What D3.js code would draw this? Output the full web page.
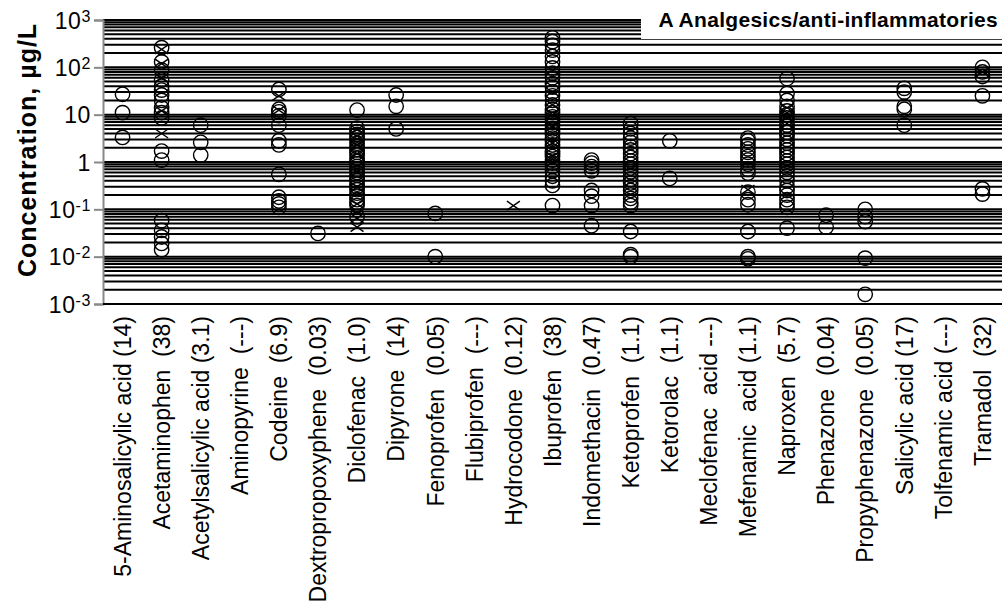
<!DOCTYPE html>
<html>
<head>
<meta charset="utf-8">
<script src="https://cdn.jsdelivr.net/npm/d3@7"></script>
<style>
  body { margin: 0; background: #fff; }
  svg { display: block; font-family: "Liberation Sans", Arial, sans-serif; }
</style>
</head>
<body>
<div id="chart"></div>
<script>
const drugs = [
  "5-Aminosalicylic acid (14)", "Acetaminophen  (38)", "Acetylsalicylic acid (3.1)",
  "Aminopyrine  (---)", "Codeine  (6.9)", "Dextropropoxyphene  (0.03)", "Diclofenac  (1.0)",
  "Dipyrone  (14)", "Fenoprofen  (0.05)", "Flubiprofen  (---)", "Hydrocodone  (0.12)",
  "Ibuprofen  (38)", "Indomethacin  (0.47)", "Ketoprofen  (1.1)", "Ketorolac  (1.1)",
  "Meclofenac  acid ---)", "Mefenamic  acid (1.1)", "Naproxen  (5.7)", "Phenazone  (0.04)",
  "Propyphenazone  (0.05)", "Salicylic acid (17)", "Tolfenamic acid (---)", "Tramadol  (32)"
];

// open circles, one list per drug
const circleValues = [
  [27, 11, 3.3],
  [260, 130, 88, 54, 40, 33, 26, 20, 14, 11, 8.5, 1.7, 1.1, 0.058, 0.036, 0.026, 0.019, 0.014],
  [6, 2.6, 1.4],
  [],
  [34, 13, 11.5, 9.5, 6, 2.8, 2.3, 0.55, 0.18, 0.15, 0.13, 0.11],
  [0.031],
  [12.5, 5.2, 4.4, 3.8, 3.3, 2.9, 2.5, 2.1, 1.8, 1.6, 1.4, 1.2, 1.05, 0.92, 0.8, 0.7, 0.6,
   0.52, 0.45, 0.4, 0.34, 0.3, 0.26, 0.22, 0.19, 0.16, 0.14, 0.12, 0.07],
  [26, 15, 5],
  [0.082, 0.01],
  [],
  [],
  [420, 350, 290, 230, 170, 130, 97, 75, 60, 45, 38, 30, 25, 20, 16, 13, 11, 9, 8, 7, 6, 5,
   4.4, 3.8, 3.2, 2.7, 2.3, 2, 1.7, 1.5, 1.3, 1.1, 0.95, 0.8, 0.65, 0.5, 0.4, 0.32, 0.12],
  [1.1, 0.95, 0.8, 0.65, 0.25, 0.19, 0.12, 0.045],
  [6.5, 5, 4, 3.2, 2.6, 2.1, 1.8, 1.5, 1.25, 1.05, 0.9, 0.75, 0.62, 0.52, 0.43, 0.36, 0.3,
   0.25, 0.2, 0.17, 0.14, 0.12, 0.034, 0.011, 0.01],
  [2.8, 0.45],
  [],
  [3.2, 2.8, 2.3, 1.9, 1.6, 1.3, 1.1, 0.9, 0.7, 0.58, 0.23, 0.16, 0.125, 0.034, 0.01, 0.009],
  [58, 28, 20, 15, 12, 10, 8.5, 7, 6, 5, 4.2, 3.6, 3, 2.5, 2.1, 1.8, 1.5, 1.25, 1.05, 0.9,
   0.75, 0.6, 0.5, 0.4, 0.3, 0.25, 0.2, 0.16, 0.13, 0.11, 0.04],
  [0.075, 0.042],
  [0.1, 0.07, 0.055, 0.0093, 0.0016],
  [36, 30, 15, 13, 6],
  [],
  [100, 80, 64, 25, 0.27, 0.21]
];

// crosses
const crossValues = [
  [], [240, 120, 60, 12, 4], [], [], [25, 12.5], [],
  [4.8, 3.5, 2.3, 1.5, 0.3, 0.13, 0.065, 0.042],
  [], [], [], [0.12], [16, 10, 5.5, 2.5, 1.3], [], [], [], [], [0.26],
  [14, 11, 9, 6.5], [], [], [], [], [80]
];

const decadeTicks = [1e-3, 1e-2, 1e-1, 1, 10, 100, 1000];
const tickText = [["10", "-3"], ["10", "-2"], ["10", "-1"], ["1", ""], ["10", ""], ["10", "2"], ["10", "3"]];

const width = 1002, height = 607;
const margins = {top: 20, right: 0, bottom: 303, left: 103};

const svg = d3.select("#chart")
  .append("svg")
  .attr("width", width)
  .attr("height", height);

const xScale = d3.scaleBand()
  .domain(drugs)
  .range([margins.left, width - margins.right])
  .padding(0);

const yScale = d3.scaleLog()
  .domain([1e-3, 1e3])
  .range([height - margins.bottom, margins.top]);

// horizontal lines at each 1..9 x decade
const gridVals = [];
decadeTicks.forEach(d => {
  for (let k = 1; k <= 9; k++) {
    if (d * k <= 1000) gridVals.push(d * k);
  }
});

svg.append("g")
  .selectAll("line")
  .data(gridVals)
  .join("line")
    .attr("x1", margins.left)
    .attr("x2", width - margins.right)
    .attr("y1", d => yScale(d))
    .attr("y2", d => yScale(d))
    .attr("stroke", "#000")
    .attr("stroke-width", 2);

const cx = i => xScale(drugs[i]) + xScale.bandwidth() / 2;

const circleData = [];
circleValues.forEach((vals, i) => vals.forEach(v => circleData.push({i, v})));
const crossData = [];
crossValues.forEach((vals, i) => vals.forEach(v => crossData.push({i, v})));

svg.append("g")
  .selectAll("circle")
  .data(circleData)
  .join("circle")
    .attr("cx", d => cx(d.i))
    .attr("cy", d => yScale(d.v))
    .attr("r", 7.2)
    .attr("fill", "none")
    .attr("stroke", "#000")
    .attr("stroke-width", 1.4);

svg.append("g")
  .selectAll("path")
  .data(crossData)
  .join("path")
    .attr("transform", d => `translate(${cx(d.i)},${yScale(d.v)})`)
    .attr("d", "M-6.5,-4.5L6.5,4.5M-6.5,4.5L6.5,-4.5")
    .attr("fill", "none")
    .attr("stroke", "#000")
    .attr("stroke-width", 1.4);

// y axis
const yAxis = d3.axisLeft(yScale)
  .tickValues(decadeTicks)
  .tickSize(9)
  .tickPadding(4)
  .tickFormat("");

const yGroup = svg.append("g")
  .attr("transform", `translate(${margins.left},0)`)
  .call(yAxis);

yGroup.select(".domain").attr("stroke", "#888").attr("stroke-width", 2);
yGroup.selectAll(".tick line").attr("stroke", "#888").attr("stroke-width", 2);

yGroup.selectAll(".tick text")
  .attr("x", -12)
  .attr("dy", "0.36em")
  .style("font-family", "'Liberation Sans', Arial, sans-serif")
  .style("font-size", "23px")
  .style("letter-spacing", "0.6px")
  .attr("fill", "#000")
  .each(function(d) {
    const t = d3.select(this);
    const [base, sup] = tickText[decadeTicks.indexOf(d)];
    t.text(null);
    t.append("tspan").text(base);
    if (sup) {
      t.append("tspan")
        .attr("dy", "-0.45em")
        .style("font-size", "16px")
        .text(sup);
    }
  });

// bottom line
svg.append("line")
  .attr("x1", margins.left)
  .attr("x2", width - margins.right)
  .attr("y1", yScale(1e-3))
  .attr("y2", yScale(1e-3))
  .attr("stroke", "#000")
  .attr("stroke-width", 2);

// category labels
svg.append("g")
  .selectAll("text")
  .data(drugs)
  .join("text")
    .attr("transform", (d, i) => `translate(${cx(i)},${yScale(1e-3) + 12}) rotate(-90)`)
    .attr("dy", "0.36em")
    .attr("text-anchor", "end")
    .style("font-size", "23px")
    .style("white-space", "pre")
    .text(d => d);

// axis title
svg.append("text")
  .attr("transform", `translate(36,150) rotate(-90)`)
  .attr("text-anchor", "middle")
  .style("font-size", "25px")
  .style("font-weight", "bold")
  .style("letter-spacing", "1px")
  .text("Concentration, µg/L");

// panel title with white box
svg.append("rect")
  .attr("x", 641)
  .attr("y", 0)
  .attr("width", width - 641)
  .attr("height", 39)
  .attr("fill", "#fff");

svg.append("text")
  .attr("x", 998)
  .attr("y", 27)
  .attr("text-anchor", "end")
  .style("font-size", "21px")
  .style("font-weight", "bold")
  .style("letter-spacing", "0.3px")
  .text("A Analgesics/anti-inflammatories");
</script>
</body>
</html>
